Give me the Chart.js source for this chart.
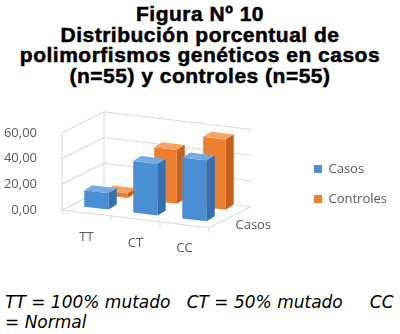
<!DOCTYPE html>
<html>
<head>
<meta charset="utf-8">
<script src="https://cdn.jsdelivr.net/npm/chart.js@4.4.1/dist/chart.umd.min.js"></script>
<style>
  body { margin: 0; width: 400px; height: 334px; background: #fff; overflow: hidden; position: relative; }
  .title { position: absolute; left: 0; top: 4px; width: 400px; text-align: center;
    font-family: "Liberation Sans", Arial, sans-serif; font-weight: bold; font-size: 21px; line-height: 20.5px;
    letter-spacing: 0.5px; -webkit-text-stroke: 0.5px #000; color: #000; }
  .chart-box { position: absolute; left: 0; top: 100px; width: 400px; height: 162px; }
  .note { position: absolute; left: 5px; top: 292px; font-family: "DejaVu Sans", sans-serif;
    font-style: italic; font-size: 17px; line-height: 20px; white-space: pre; color: #000; }
</style>
</head>
<body>
<div class="title">Figura Nº 10<br>Distribución porcentual de<br>polimorfismos genéticos en casos<br>(n=55) y controles (n=55)</div>
<div class="chart-box"><canvas id="chart"></canvas></div>
<div class="note">TT = 100% mutado   CT = 50% mutado     CC
= Normal</div>
<script>
// data (% of n=55)
const categories = ['TT', 'CT', 'CC'];
const seriesNames = ['Casos', 'Controles'];
const casos = [12.73, 40.00, 47.27];
const controles = [3.64, 41.82, 54.55];
const yTicks = [0, 20, 40, 60];
const depthLabels = ['Casos'];

// fake 3d look
const K = 0.12;              // floor slant
const DEPTH = [42, -26];     // floor depth
const ROW = [[10, -6], [30, -20]];
const BAR_DEPTH = [8, -6];
const labelColor = '#595959';

const fakeDepth = {
    id: 'fakeDepth',
    beforeDatasetsDraw(chart) {
        const {ctx, chartArea: a, scales: {x, y}} = chart;
        ctx.save();
        ctx.transform(1, K, 0, 1, 0, -K * a.left);
        const x0 = a.left, x1 = a.right, [dx, dy] = DEPTH;
        const y0 = y.getPixelForValue(0);
        const yTop = y.getPixelForValue(yTicks[yTicks.length - 1]);
        ctx.strokeStyle = '#d9d9d9';
        ctx.lineWidth = 1;
        ctx.beginPath();
        yTicks.forEach(v => {
            const py = y.getPixelForValue(v);
            ctx.moveTo(x0, py);
            ctx.lineTo(x0 + dx, py + dy);
            ctx.lineTo(x1 + dx, py + dy);
        });
        ctx.moveTo(x0, y0); ctx.lineTo(x0, yTop);
        ctx.moveTo(x0 + dx, y0 + dy); ctx.lineTo(x0 + dx, yTop + dy);
        ctx.moveTo(x0, y0); ctx.lineTo(x1, y0); ctx.lineTo(x1 + dx, y0 + dy);
        for (let i = 0; i <= categories.length; i++) {
            const bx = x.getPixelForValue(i - 0.5);
            ctx.moveTo(bx, y0); ctx.lineTo(bx, y0 + 5);
        }
        ctx.stroke();
    },
    beforeDatasetDraw(chart, args) {
        const [ox, oy] = ROW[args.index];
        chart.ctx.save();
        chart.ctx.translate(ox, oy);
    },
    afterDatasetDraw(chart, args) {
        const ctx = chart.ctx;
        const ds = chart.data.datasets[args.index];
        const [bdx, bdy] = BAR_DEPTH;
        args.meta.data.forEach(bar => {
            const {x, y, base, width} = bar.getProps(['x', 'y', 'base', 'width'], true);
            const l = x - width / 2, r = x + width / 2;
            ctx.fillStyle = ds.topColor;
            ctx.beginPath();
            ctx.moveTo(l, y); ctx.lineTo(r, y); ctx.lineTo(r + bdx, y + bdy); ctx.lineTo(l + bdx, y + bdy);
            ctx.closePath(); ctx.fill();
            ctx.fillStyle = ds.sideColor;
            ctx.beginPath();
            ctx.moveTo(r, y); ctx.lineTo(r + bdx, y + bdy); ctx.lineTo(r + bdx, base + bdy); ctx.lineTo(r, base);
            ctx.closePath(); ctx.fill();
        });
        ctx.restore();
    },
    afterDatasetsDraw(chart) {
        const {ctx, chartArea: a, scales: {x, y}} = chart;
        ctx.restore();
        const P = (px, py) => [px, py + K * (px - a.left)];
        const y0 = y.getPixelForValue(0);
        ctx.save();
        ctx.font = '13px "Open Sans"';
        ctx.fillStyle = labelColor;
        ctx.textAlign = 'center';
        ctx.textBaseline = 'middle';
        categories.forEach((c, i) => {
            const [lx, ly] = P(x.getPixelForValue(i), y0);
            ctx.fillText(c, lx, ly + 24);
        });
        ctx.textAlign = 'left';
        const [sx, sy] = P(a.right + DEPTH[0] * 0.25, y0 + DEPTH[1] * 0.25);
        ctx.fillText(depthLabels[0], sx + 16, sy + 3);
        ctx.restore();
    }
};

let chart = new Chart(document.getElementById('chart'), {
    type: 'bar',
    data: {
        labels: categories,
        datasets: [{
            label: seriesNames[0],
            data: casos,
            backgroundColor: '#4a8ed3',
            topColor: '#74abe3',
            sideColor: '#3670ae',
            order: 0,
            barPercentage: 0.5
        }, {
            label: seriesNames[1],
            data: controles,
            backgroundColor: '#ec7f2d',
            topColor: '#f6a35f',
            sideColor: '#c4621b',
            order: 1,
            barPercentage: 0.46
        }]
    },
    options: {
        responsive: true,
        maintainAspectRatio: false,
        animation: false,
        layout: { padding: { top: 30, bottom: 24, left: 0, right: 3 } },
        datasets: {
            bar: { grouped: false, categoryPercentage: 1, borderWidth: 0, clip: false }
        },
        scales: {
            x: {
                display: true,
                grid: { display: false },
                border: { display: false },
                ticks: { display: false },
                afterFit: s => { s.height = 28; }
            },
            y: {
                min: 0,
                max: 60,
                grid: { display: false, drawTicks: false },
                border: { display: false },
                afterBuildTicks: s => { s.ticks = yTicks.map(v => ({value: v})); },
                afterFit: s => { s.width = 62; },
                ticks: {
                    padding: 25,
                    color: labelColor,
                    font: { family: 'Open Sans', size: 13 },
                    callback: v => v.toFixed(2).replace('.', ',')
                }
            },
            spacer: {
                type: 'linear',
                position: 'right',
                grid: { display: false },
                border: { display: false },
                ticks: { display: false },
                afterFit: s => { s.width = 88; }
            }
        },
        plugins: {
            legend: {
                position: 'right',
                maxWidth: 110,
                labels: {
                    boxWidth: 8,
                    boxHeight: 8,
                    padding: 17,
                    color: labelColor,
                    font: { family: 'Open Sans', size: 13 }
                }
            },
            tooltip: { enabled: false }
        }
    },
    plugins: [fakeDepth]
});
</script>
</body>
</html>
